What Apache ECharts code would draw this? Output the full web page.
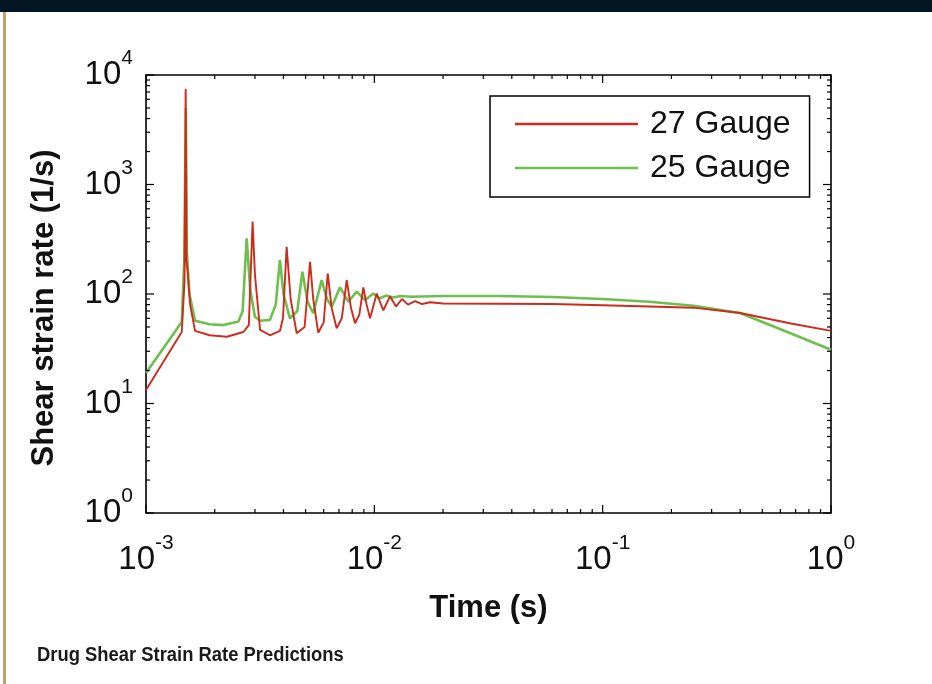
<!DOCTYPE html>
<html>
<head>
<meta charset="utf-8">
<script src="https://cdn.jsdelivr.net/npm/echarts@6/dist/echarts.min.js"></script>
<style>
  html, body { margin: 0; padding: 0; background: #fff; }
  #chart { width: 932px; height: 684px; }
</style>
</head>
<body>
<div id="chart"></div>
<script>
// 27 Gauge (red)
var redTime = [1.0e-3, 1.434e-3, 1.475e-3, 1.492e-3, 1.505e-3, 1.52e-3, 1.56e-3, 1.64e-3, 1.9e-3, 2.26e-3,
  2.67e-3, 2.82e-3, 2.93e-3, 3.0e-3, 3.16e-3, 3.49e-3, 3.86e-3, 3.98e-3, 4.13e-3, 4.3e-3,
  4.57e-3, 4.95e-3, 5.23e-3, 5.4e-3, 5.68e-3, 6.0e-3, 6.25e-3, 6.5e-3, 6.84e-3, 7.2e-3,
  7.57e-3, 7.9e-3, 8.23e-3, 8.6e-3, 8.95e-3, 9.25e-3, 9.58e-3, 1.0245e-2, 1.095e-2, 1.172e-2,
  1.245e-2, 1.322e-2, 1.405e-2, 1.508e-2, 1.618e-2, 1.754e-2, 2.0e-2, 3.5e-2, 0.06, 0.1,
  0.16, 0.25, 0.4, 0.66, 1.0];
var redRate = [13.3, 45, 130, 7450, 200, 165, 80, 46, 42, 40.7,
  45, 52, 458, 150, 47, 42, 46, 60, 270, 90,
  43.8, 50, 197, 90, 44.3, 55, 154, 75, 48.6, 60,
  134, 75, 54, 65, 115, 80, 60, 101, 71, 95,
  77, 90, 80, 86, 81, 84, 82, 81.5, 81, 79,
  77, 75, 67, 54, 46];

// 25 Gauge (green)
var greenTime = [1.0e-3, 1.434e-3, 1.47e-3, 1.495e-3, 1.51e-3, 1.55e-3, 1.64e-3, 1.9e-3, 2.18e-3, 2.54e-3,
  2.65e-3, 2.76e-3, 2.86e-3, 3.0e-3, 3.16e-3, 3.49e-3, 3.7e-3, 3.86e-3, 4.0e-3, 4.27e-3,
  4.6e-3, 4.84e-3, 5.1e-3, 5.4e-3, 5.88e-3, 6.2e-3, 6.51e-3, 7.08e-3, 7.69e-3, 8.37e-3,
  9.1e-3, 9.9e-3, 1.05e-2, 1.13e-2, 1.21e-2, 1.3e-2, 1.45e-2, 2.0e-2, 3.5e-2, 0.06,
  0.1, 0.16, 0.25, 0.4, 0.66, 1.0];
var greenRate = [19, 55.5, 200, 5000, 240, 100, 57, 53, 52, 56,
  70, 323, 110, 62, 57, 58, 80, 205, 100, 60,
  70, 160, 85, 66.7, 134, 90, 76.6, 115, 85, 105,
  88, 101, 91, 97, 93, 96, 94.5, 96, 96, 94,
  90, 85, 78, 67, 44, 31];

var seriesNames = ['27 Gauge', '25 Gauge'];
var xTickExps = ['-3', '-2', '-1', '0'];
var yTickExps = ['0', '1', '2', '3', '4'];

var FONT = 'Liberation Sans, Arial, Helvetica, sans-serif';

function zip(a, b) {
  return a.map(function (v, i) { return [v, b[i]]; });
}

// tick marks: [x, y, kind(0=x,1=y), major]
var xMin = Math.pow(10, +xTickExps[0]), xMax = Math.pow(10, +xTickExps[xTickExps.length - 1]);
var yMin = Math.pow(10, +yTickExps[0]), yMax = Math.pow(10, +yTickExps[yTickExps.length - 1]);
var tickData = [];
xTickExps.forEach(function (e, i) {
  var base = Math.pow(10, +e);
  tickData.push([base, yMin, 0, 1]);
  if (i < xTickExps.length - 1) {
    for (var m = 2; m <= 9; m++) tickData.push([m * base, yMin, 0, 0]);
  }
});
yTickExps.forEach(function (e, i) {
  var base = Math.pow(10, +e);
  tickData.push([xMin, base, 1, 1]);
  if (i < yTickExps.length - 1) {
    for (var m = 2; m <= 9; m++) tickData.push([xMin, m * base, 1, 0]);
  }
});

function expLabel(list) {
  return function (value) {
    var k = Math.round(Math.log10(value)) - (+list[0]);
    return '{b|10}{e|' + list[k] + '}';
  };
}

var labelRich = {
  b: { fontSize: 33, lineHeight: 54, fontFamily: FONT, color: '#111' },
  e: { fontSize: 21, lineHeight: 21, verticalAlign: 'top', fontFamily: FONT, color: '#111' }
};

var chart = echarts.init(document.getElementById('chart'));
chart.setOption({
  backgroundColor: '#fff',
  animation: false,
  grid: {
    left: 146, right: 101, top: 75, bottom: 171,
    show: true, borderColor: '#000', borderWidth: 1.6, backgroundColor: '#fff'
  },
  legend: {
    data: seriesNames,
    orient: 'vertical',
    left: 490, top: 96,
    padding: [10, 19, 11, 25],
    backgroundColor: '#fff',
    borderColor: '#000',
    borderWidth: 1.5,
    borderRadius: 0,
    icon: 'rect',
    itemWidth: 123,
    itemHeight: 2.5,
    itemGap: 8,
    textStyle: { fontSize: 32, lineHeight: 36, fontFamily: FONT, color: '#111', padding: [0, 0, 0, 7] }
  },
  graphic: [
    { type: 'rect', left: 0, top: 0, shape: { width: 932, height: 12 }, style: { fill: '#021624' } },
    { type: 'rect', left: 3, top: 12, shape: { width: 3, height: 672 }, style: { fill: '#c4a070' } },
    {
      type: 'text', left: 37, top: 645, scaleX: 0.92,
      style: {
        text: 'Drug Shear Strain Rate Predictions',
        font: 'bold 20px "Liberation Sans", Arial, sans-serif',
        fill: '#1a1a1a'
      }
    }
  ],
  xAxis: {
    type: 'log', logBase: 10, min: xMin, max: xMax,
    name: 'Time (s)', nameLocation: 'middle', nameGap: 80,
    nameTextStyle: { fontSize: 31, fontWeight: 'bold', fontFamily: FONT, color: '#111' },
    axisLine: { show: false },
    axisTick: { show: false },
    splitLine: { show: false },
    axisLabel: { margin: 20, formatter: expLabel(xTickExps), rich: labelRich, showMinLabel: true, showMaxLabel: true }
  },
  yAxis: {
    type: 'log', logBase: 10, min: yMin, max: yMax,
    name: 'Shear strain rate (1/s)', nameLocation: 'middle', nameGap: 86, nameRotate: 90,
    nameTextStyle: { fontSize: 31, fontWeight: 'bold', fontFamily: FONT, color: '#111', padding: [0, 28, 0, 0] },
    axisLine: { show: false },
    axisTick: { show: false },
    splitLine: { show: false },
    axisLabel: { margin: 13, formatter: expLabel(yTickExps), rich: labelRich, showMinLabel: true, showMaxLabel: true }
  },
  series: [
    {
      name: seriesNames[1], type: 'line', data: zip(greenTime, greenRate),
      showSymbol: false, color: '#6dbf4f', lineStyle: { width: 2.6, color: '#6dbf4f' }, z: 2
    },
    {
      name: seriesNames[0], type: 'line', data: zip(redTime, redRate),
      showSymbol: false, color: '#cc2b1d', lineStyle: { width: 1.9, color: '#cc2b1d' }, z: 3
    },
    {
      type: 'custom', silent: true, z: 4,
      data: tickData,
      encode: { x: 0, y: 1 },
      renderItem: function (params, api) {
        var len = api.value(3) ? 8 : 4;
        var st = { stroke: '#000', lineWidth: 1.2 };
        if (api.value(2) === 0) {
          var b = api.coord([api.value(0), yMin]);
          var t = api.coord([api.value(0), yMax]);
          return { type: 'group', children: [
            { type: 'line', shape: { x1: b[0], y1: b[1], x2: b[0], y2: b[1] - len }, style: st },
            { type: 'line', shape: { x1: t[0], y1: t[1], x2: t[0], y2: t[1] + len }, style: st }
          ] };
        }
        var l = api.coord([xMin, api.value(1)]);
        var r = api.coord([xMax, api.value(1)]);
        return { type: 'group', children: [
          { type: 'line', shape: { x1: l[0], y1: l[1], x2: l[0] + len, y2: l[1] }, style: st },
          { type: 'line', shape: { x1: r[0], y1: r[1], x2: r[0] - len, y2: r[1] }, style: st }
        ] };
      }
    }
  ]
});
</script>
</body>
</html>
